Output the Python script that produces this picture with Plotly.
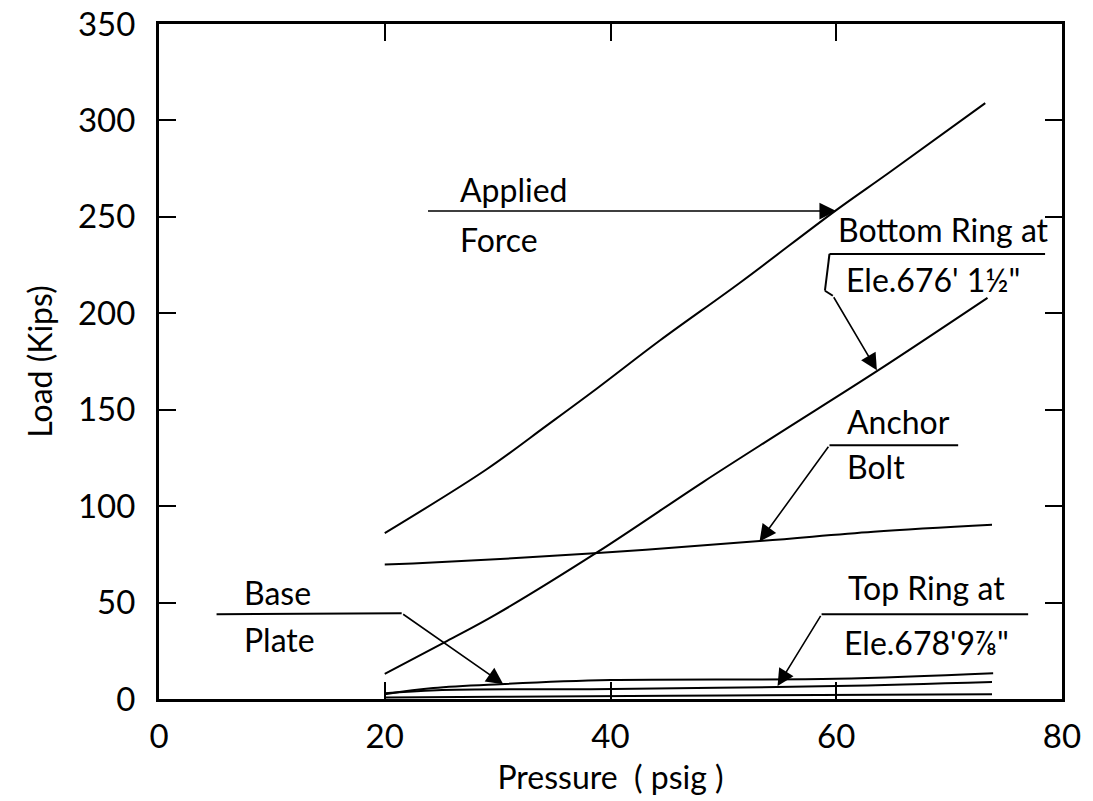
import plotly.graph_objects as go

# ---- data ----
applied_x = [20, 29, 34.4, 38.8, 44.4, 51.5, 60, 64.7, 73.2]
applied_y = [86, 119, 142, 161, 186, 216, 253.5, 273, 309]

bottom_x = [20, 25.5, 29.9, 38.8, 48.2, 55, 63.6, 73.4]
bottom_y = [13, 30, 44, 76, 112.5, 138, 170, 208]

anchor_x = [20, 22.5, 38.2, 53.5, 63.3, 73.8]
anchor_y = [69.7, 70.2, 75.4, 82, 86.7, 90.3]

base_x = [20, 24.3, 30.2, 40, 60, 73.9]
base_y = [2.5, 5.7, 7.7, 9.8, 10.5, 13.4]

topring_x = [20, 24.6, 40.2, 60, 73.8]
topring_y = [3, 4.6, 5.2, 6.7, 8.8]

low_x = [20, 30, 50, 73.8]
low_y = [0.8, 1.2, 1.8, 2.5]

x_ticks = [0, 20, 40, 60, 80]
y_ticks = [0, 50, 100, 150, 200, 250, 300, 350]

FONT = "Lato, 'Noto Sans', 'DejaVu Sans', sans-serif"
INK = "black"

fig = go.Figure()
for xs, ys in [(applied_x, applied_y), (bottom_x, bottom_y), (anchor_x, anchor_y),
               (base_x, base_y), (topring_x, topring_y), (low_x, low_y)]:
    fig.add_trace(go.Scatter(x=xs, y=ys, mode="lines",
                             line=dict(color=INK, width=2, shape="spline", smoothing=1.0),
                             hoverinfo="skip", showlegend=False))

# leader polylines (non-arrow segments)
leaders = [
    [(78.5, 230.8), (59.4, 230.8), (59.0, 211.7), (59.7, 209.1)],
    [(70.8, 131.6), (59.4, 131.6)],
    [(5.1, 43.9), (21.5, 44.5)],
    [(77.0, 43.9), (58.7, 43.9)],
]
for pts in leaders:
    for (x0, y0), (x1, y1) in zip(pts[:-1], pts[1:]):
        fig.add_shape(type="line", x0=x0, y0=y0, x1=x1, y1=y1, xref="x", yref="y",
                      line=dict(color=INK, width=2))

# arrows (start -> tip)
arrows = [
    ((23.7, 253), (60.0, 253)),
    ((59.7, 209.1), (63.6, 170.4)),
    ((59.4, 131.6), (53.2, 81.6)),
    ((21.5, 44.5), (30.5, 7.7)),
    ((58.7, 43.9), (54.8, 6.7)),
]
for (ax, ay), (x, y) in arrows:
    fig.add_annotation(x=x, y=y, ax=ax, ay=ay, xref="x", yref="y", axref="x", ayref="y",
                       text="", showarrow=True, arrowhead=2, arrowsize=2.1,
                       arrowwidth=1.6, arrowcolor=INK, standoff=0, startstandoff=0)

labels = [
    ("Applied", 26.5, 264.3),
    ("Force", 26.5, 238.5),
    ("Bottom Ring at", 60.0, 243.7),
    ("Ele.676' 1½\"", 60.7, 217.3),
    ("Anchor", 60.8, 144.0),
    ("Bolt", 60.8, 120.8),
    ("Base", 7.35, 55.2),
    ("Plate", 7.35, 31.0),
    ("Top Ring at", 60.9, 57.8),
    ("Ele.678'9⅞\"", 60.5, 29.4),
]
for t, x, y in labels:
    fig.add_annotation(x=x, y=y, xref="x", yref="y", text=t, showarrow=False,
                       xanchor="left", yanchor="middle",
                       font=dict(family=FONT, size=32, color=INK))

axis_common = dict(showgrid=False, zeroline=False, showline=True, linecolor=INK,
                   linewidth=3, mirror="ticks", ticks="inside", ticklen=17,
                   tickwidth=2, tickcolor=INK, ticklabeloverflow="allow", automargin=False,
                   tickfont=dict(family=FONT, size=33, color=INK))

fig.update_xaxes(range=[0, 80], tickvals=x_ticks, ticktext=[str(v) for v in x_ticks],
                 ticklabelstandoff=6,
                 title=dict(text="Pressure  ( psig )", font=dict(family=FONT, size=32, color=INK),
                            standoff=14),
                 **axis_common)
fig.update_yaxes(range=[0, 350], tickvals=y_ticks, ticktext=[str(v) for v in y_ticks],
                 ticklabelstandoff=14,
                 title=dict(text="Load (Kips)", font=dict(family=FONT, size=32, color=INK),
                            standoff=16),
                 **axis_common)

fig.update_layout(width=1093, height=801,
                  margin=dict(l=159, r=31, t=24, b=102, autoexpand=False),
                  paper_bgcolor="white", plot_bgcolor="white")

fig.write_html("out.html")
